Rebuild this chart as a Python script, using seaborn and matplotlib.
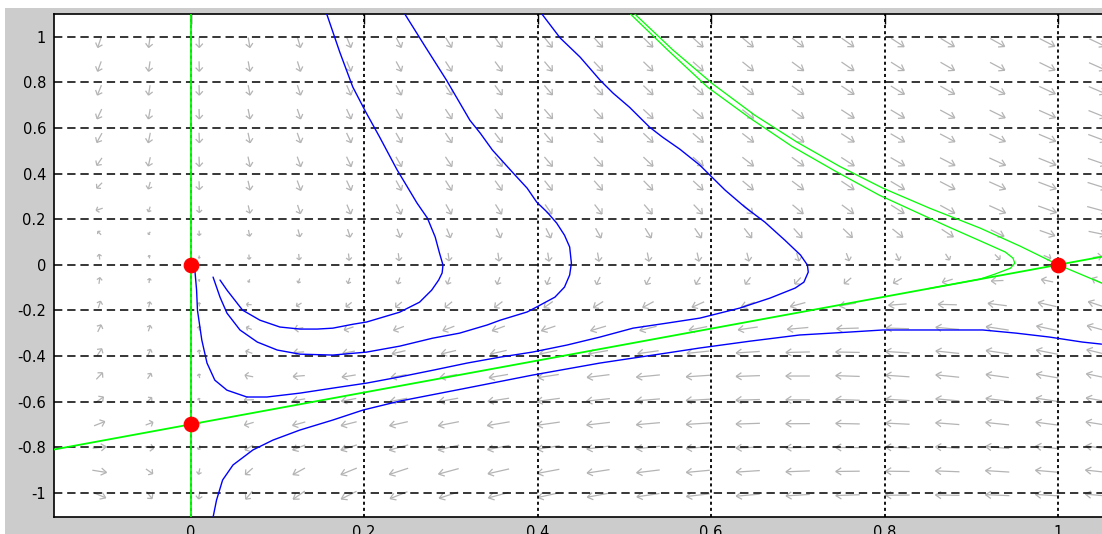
import numpy as np
import matplotlib
matplotlib.use("Agg")
import matplotlib.pyplot as plt
import seaborn as sns
from matplotlib.patches import Rectangle
from matplotlib.collections import LineCollection

# ---- planar system  x' = A*x*y,  y' = -y*(y - Y_LOW) + K*x*(x - 1) + M*x*y
A_COEF = 1.2
K_COEF = 1.512
M_COEF = -0.62
Y_LOW = -0.7

# equilibria
EQ_X = [0.0, 0.0, 1.0]
EQ_Y = [0.0, -0.7, 0.0]

# solution curves (blue)
TRAJ1_X = [0.157, 0.172, 0.187, 0.202, 0.218, 0.238, 0.250, 0.261, 0.273, 0.282, 0.287, 0.291,
           0.290, 0.286, 0.278, 0.264, 0.241, 0.226, 0.203, 0.187, 0.164, 0.146, 0.126, 0.103,
           0.080, 0.060, 0.042, 0.034]
TRAJ1_Y = [1.10, 0.933, 0.780, 0.670, 0.560, 0.417, 0.341, 0.271, 0.205, 0.122, 0.051, -0.001,
           -0.036, -0.067, -0.111, -0.164, -0.208, -0.225, -0.251, -0.261, -0.278, -0.282, -0.282,
           -0.273, -0.243, -0.199, -0.111, -0.067]

TRAJ2_X = [0.247, 0.270, 0.295, 0.322, 0.334, 0.348, 0.372, 0.388, 0.399, 0.411, 0.422, 0.431,
           0.437, 0.439, 0.437, 0.431, 0.420, 0.399, 0.388, 0.357, 0.342, 0.310, 0.279, 0.241,
           0.203, 0.164, 0.126, 0.100, 0.077, 0.057, 0.042, 0.034, 0.026]
TRAJ2_Y = [1.10, 0.96, 0.810, 0.634, 0.577, 0.503, 0.402, 0.336, 0.275, 0.231, 0.183, 0.130,
           0.078, 0.007, -0.045, -0.098, -0.142, -0.185, -0.207, -0.243, -0.264, -0.300, -0.322,
           -0.357, -0.383, -0.396, -0.392, -0.374, -0.339, -0.286, -0.212, -0.142, -0.054]

TRAJ3_X = [0.405, 0.426, 0.449, 0.472, 0.487, 0.506, 0.529, 0.544, 0.564, 0.587, 0.616, 0.639,
           0.662, 0.685, 0.703, 0.711, 0.712, 0.707, 0.697, 0.668, 0.633, 0.587, 0.549, 0.510,
           0.472, 0.434, 0.394, 0.357, 0.319, 0.280, 0.241, 0.203, 0.164, 0.126, 0.088, 0.065,
           0.042, 0.028, 0.019, 0.013, 0.008, 0.007, 0.005]
TRAJ3_Y = [1.10, 0.995, 0.911, 0.810, 0.753, 0.691, 0.604, 0.560, 0.507, 0.437, 0.328, 0.253,
           0.187, 0.108, 0.043, -0.001, -0.032, -0.076, -0.102, -0.146, -0.190, -0.234, -0.256,
           -0.278, -0.317, -0.352, -0.383, -0.405, -0.431, -0.462, -0.492, -0.519, -0.541,
           -0.563, -0.580, -0.580, -0.550, -0.506, -0.431, -0.330, -0.199, -0.111, -0.023]

TRAJ4_X = [1.050, 1.028, 0.990, 0.952, 0.913, 0.852, 0.798, 0.760, 0.702, 0.645, 0.587, 0.549,
           0.472, 0.394, 0.318, 0.241, 0.199, 0.164, 0.126, 0.095, 0.072, 0.049, 0.037, 0.030,
           0.026]
TRAJ4_Y = [-0.348, -0.339, -0.317, -0.300, -0.286, -0.286, -0.286, -0.295, -0.308, -0.335,
           -0.365, -0.387, -0.431, -0.484, -0.541, -0.598, -0.637, -0.681, -0.725, -0.769,
           -0.812, -0.878, -0.944, -1.032, -1.107]

# separatrices (green)
SEP_AXIS_X = [0.0, 0.0]
SEP_AXIS_Y = [-1.11, 1.11]
SEP_LINE_X = [-0.157, 1.10]
SEP_LINE_Y = [-0.810, 0.070]
SEP_STABLE_X = [0.512, 0.556, 0.602, 0.650, 0.699, 0.748, 0.798, 0.852, 0.910, 0.956, 1.0, 1.050, 1.10]
SEP_STABLE_Y = [1.10, 0.942, 0.793, 0.657, 0.538, 0.432, 0.336, 0.248, 0.161, 0.082, 0.0, -0.080, -0.160]
SEP_NEAR_X = [0.507, 0.550, 0.596, 0.645, 0.693, 0.743, 0.794, 0.872, 0.916, 0.939, 0.948, 0.950,
              0.945, 0.927, 0.910, 0.850]
SEP_NEAR_Y = [1.10, 0.942, 0.779, 0.643, 0.520, 0.411, 0.305, 0.169, 0.095, 0.056, 0.029, 0.007,
              -0.015, -0.041, -0.063, -0.105]

# axis ticks
X_TICKS = [0, 0.2, 0.4, 0.6, 0.8, 1.0]
X_TICK_LABELS = ["0", "0.2", "0.4", "0.6", "0.8", "1"]
Y_TICKS = [-1.0, -0.8, -0.6, -0.4, -0.2, 0.0, 0.2, 0.4, 0.6, 0.8, 1.0]
Y_TICK_LABELS = ["-1", "-0.8", "-0.6", "-0.4", "-0.2", "0", "0.2", "0.4", "0.6", "0.8", "1"]

# direction-field sample points
ARROW_X = -0.105 + 0.0575 * np.arange(21)
ARROW_Y = 0.975 - 0.1045 * np.arange(20)

sns.set_theme(style="white")
plt.rcParams["font.family"] = ["DejaVu Sans"]
plt.rcParams["lines.scale_dashes"] = False

W, H = 1102, 534
fig = plt.figure(figsize=(W / 100, H / 100), dpi=100, facecolor="#cccccc")
# thin white frame along the top and left edges of the window
fig.add_artist(Rectangle((0, 1 - 8 / H), 1, 8 / H, transform=fig.transFigure,
                         facecolor="white", edgecolor="none", zorder=-5))
fig.add_artist(Rectangle((0, 0), 5 / W, 1, transform=fig.transFigure,
                         facecolor="white", edgecolor="none", zorder=-5))

ax = fig.add_axes([54.3 / W, 17.3 / H, 1090.6 / W, 502.7 / H])
ax.set_facecolor("white")
ax.set_xlim(-0.157, 1.10)
ax.set_ylim(-1.105, 1.10)

# ---- direction field: open-headed arrows, sized in screen space
gx, gy = np.meshgrid(ARROW_X, ARROW_Y)
dx = A_COEF * gx * gy
dy = -gy * (gy - Y_LOW) + K_COEF * gx * (gx - 1) + M_COEF * gx * gy
o = ax.transData.transform((0, 0))
sx = ax.transData.transform((1, 0))[0] - o[0]
sy = ax.transData.transform((0, 1))[1] - o[1]
px, py = dx * sx, dy * sy
norm = np.sqrt((px / 24.0) ** 2 + (py / 10.0) ** 2) + 1e-12
qx, qy = px / norm, py / norm
m = np.hypot(dx / 1.2, dy / 2.2)
g = np.sqrt(np.minimum(1.0, m / 0.25))
qx, qy = qx * g, qy * g
L = np.hypot(qx, qy) + 1e-12
ux, uy = qx / L, qy / L
hl = np.minimum(0.38 * L, 5.5)
hw = np.minimum(0.42 * L, 3.6)

cx, cy = gx * sx, gy * sy
tail_x, tail_y = cx - qx / 2, cy - qy / 2
tip_x, tip_y = cx + qx / 2, cy + qy / 2
b1x = tip_x - hl * ux - hw * uy
b1y = tip_y - hl * uy + hw * ux
b2x = tip_x - hl * ux + hw * uy
b2y = tip_y - hl * uy - hw * ux

segs = []
for i in range(gx.size):
    tx, ty = tip_x.flat[i] / sx, tip_y.flat[i] / sy
    segs.append([(tail_x.flat[i] / sx, tail_y.flat[i] / sy), (tx, ty)])
    segs.append([(b1x.flat[i] / sx, b1y.flat[i] / sy), (tx, ty)])
    segs.append([(b2x.flat[i] / sx, b2y.flat[i] / sy), (tx, ty)])
ax.add_collection(LineCollection(segs, colors="#b4b4b4", linewidths=0.9, zorder=1))

# ---- separatrices
for xs, ys, lw in [(SEP_AXIS_X, SEP_AXIS_Y, 1.3), (SEP_LINE_X, SEP_LINE_Y, 1.3),
                   (SEP_STABLE_X, SEP_STABLE_Y, 0.9), (SEP_NEAR_X, SEP_NEAR_Y, 0.9)]:
    sns.lineplot(x=xs, y=ys, sort=False, estimator=None, color="#00ff00",
                 linewidth=lw, ax=ax, zorder=3)

# ---- solution curves
for xs, ys in [(TRAJ1_X, TRAJ1_Y), (TRAJ2_X, TRAJ2_Y), (TRAJ3_X, TRAJ3_Y), (TRAJ4_X, TRAJ4_Y)]:
    sns.lineplot(x=xs, y=ys, sort=False, estimator=None, color="#0000ff",
                 linewidth=1.0, ax=ax, zorder=3)

# ---- equilibria
sns.scatterplot(x=EQ_X, y=EQ_Y, color="#ff0000", edgecolor="#ff0000", s=110,
                marker="o", ax=ax, zorder=5)

ax.set_xlim(-0.157, 1.10)
ax.set_ylim(-1.105, 1.10)
ax.set_xticks(X_TICKS)
ax.set_xticklabels(X_TICK_LABELS)
ax.set_yticks(Y_TICKS)
ax.set_yticklabels(Y_TICK_LABELS)
ax.set_xlabel("")
ax.set_ylabel("")

ax.set_axisbelow("line")
ax.grid(True, axis="y", color="black", linewidth=1.1, linestyle=(0, (6, 3.5)))
ax.grid(True, axis="x", color="black", linewidth=1.3, linestyle=(0, (2.2, 2.2)))

ax.tick_params(direction="in", length=7, width=1, colors="black", top=True, right=True,
               labelsize=10.5, pad=6)
for side in ["left", "bottom", "top"]:
    ax.spines[side].set_visible(True)
    ax.spines[side].set_color("black")
    ax.spines[side].set_linewidth(1.2)
ax.spines["right"].set_visible(False)

fig.savefig("out.png", dpi=100, facecolor=fig.get_facecolor())
